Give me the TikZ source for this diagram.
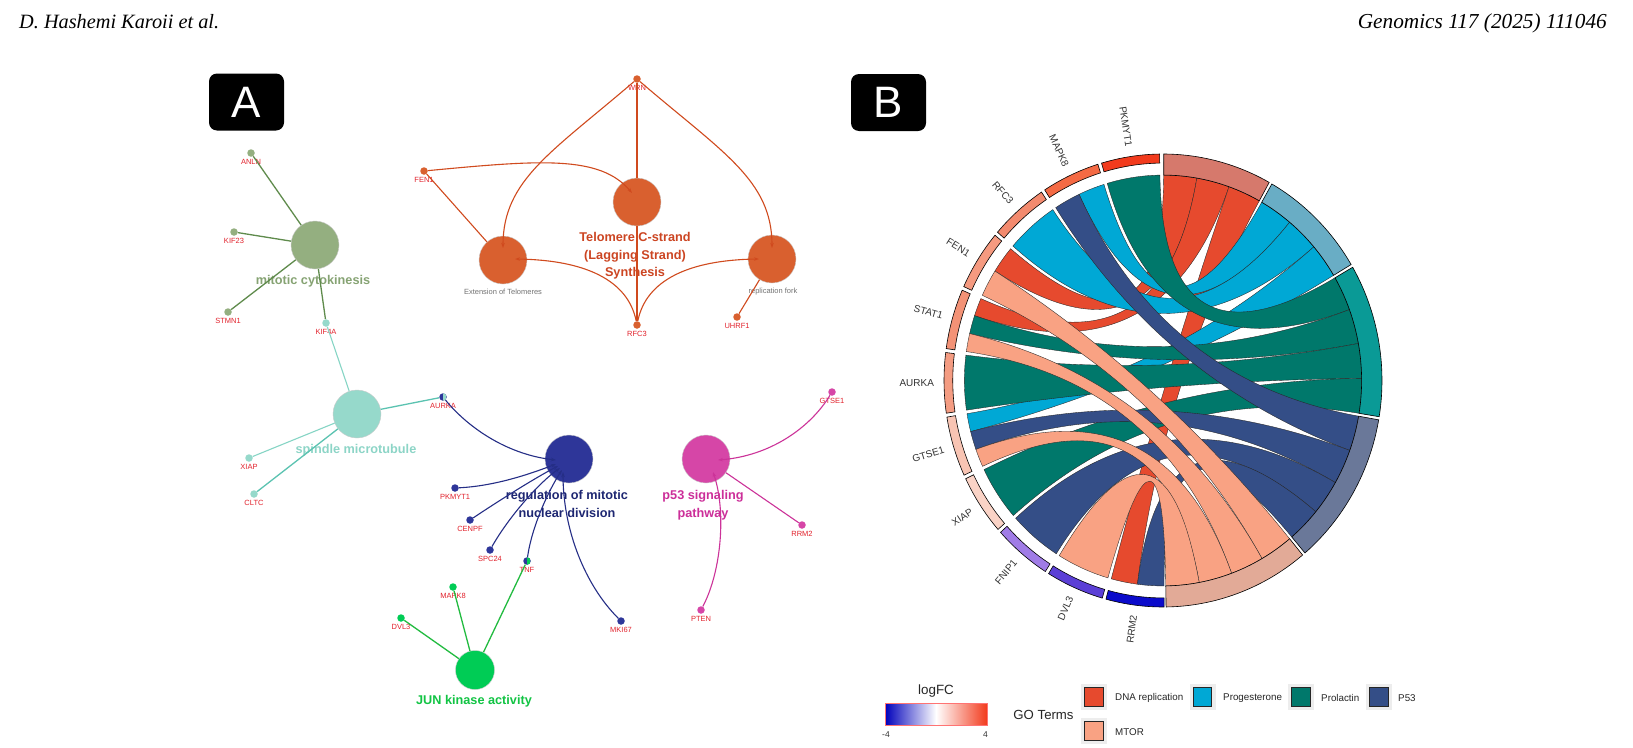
\documentclass[tikz,border=0pt]{standalone}
\usepackage{fontspec}
\setmainfont{Liberation Sans}
\newfontfamily\hdrfont{Liberation Serif}
\usetikzlibrary{arrows.meta,calc}

% network colours
\definecolor{cytoF}{RGB}{148,175,128}
\definecolor{cytoE}{RGB}{95,139,76}
\definecolor{cytoT}{RGB}{134,163,115}
\definecolor{teloF}{RGB}{217,96,47}
\definecolor{teloE}{RGB}{208,74,30}
\definecolor{teloT}{RGB}{204,69,34}
\definecolor{spinF}{RGB}{150,217,203}
\definecolor{spinE}{RGB}{134,213,197}
\definecolor{spinD}{RGB}{91,195,177}
\definecolor{spinT}{RGB}{141,213,199}
\definecolor{divF}{RGB}{46,54,153}
\definecolor{divE}{RGB}{37,46,134}
\definecolor{divT}{RGB}{30,39,114}
\definecolor{junF}{RGB}{0,204,85}
\definecolor{junE}{RGB}{34,187,64}
\definecolor{junT}{RGB}{18,196,68}
\definecolor{p53F}{RGB}{214,70,167}
\definecolor{p53E}{RGB}{204,51,153}
\definecolor{p53T}{RGB}{204,46,153}
\definecolor{geneRed}{RGB}{226,35,45}
% chord colours
\definecolor{dnaC}{HTML}{E64A2E}
\definecolor{progC}{HTML}{00A8D5}
\definecolor{prolC}{HTML}{00786B}
\definecolor{p53C}{HTML}{344E87}
\definecolor{mtorC}{HTML}{F9A283}
\definecolor{dnaR}{HTML}{D6796C}
\definecolor{progR}{HTML}{69ADC5}
\definecolor{prolR}{HTML}{0A9A96}
\definecolor{p53R}{HTML}{6A7899}
\definecolor{mtorR}{HTML}{E2AA97}
\definecolor{lfcA}{HTML}{F23B1D}
\definecolor{lfcB}{HTML}{F46A44}
\definecolor{lfcC}{HTML}{F38A6E}
\definecolor{lfcD}{HTML}{F59A80}
\definecolor{lfcE}{HTML}{F39276}
\definecolor{lfcF}{HTML}{F49C82}
\definecolor{lfcG}{HTML}{F8C4B3}
\definecolor{lfcH}{HTML}{FAD3C6}
\definecolor{lfcI}{HTML}{A07CE6}
\definecolor{lfcJ}{HTML}{5B3FD6}
\definecolor{lfcK}{HTML}{0B0BCB}
\definecolor{lfcLow}{HTML}{0000BB}

\newcommand\chR{0.907}
\newcommand\chRc{0.3023}
\newcommand\chordband[5]{%
  \filldraw[fill=#5,draw=black!85,line width=0.35pt] (#1:\chR)
    arc[start angle=#1,end angle=#2,radius=\chR]
    .. controls (#2:\chRc) and (#3:\chRc) .. (#3:\chR)
    arc[start angle=#3,end angle=#4,radius=\chR]
    .. controls (#4:\chRc) and (#1:\chRc) .. (#1:\chR) -- cycle;}

\begin{document}
\begin{tikzpicture}[x=1pt,y=-1pt,
  big/.style={circle,minimum size=48pt,inner sep=0pt,draw=black!20,line width=0.4pt},
  dot/.style={circle,minimum size=7.5pt,inner sep=0pt},
  glab/.style={font=\fontsize{7.5}{8}\selectfont,text=geneRed,inner sep=0.5pt},
  clab/.style={font=\bfseries\fontsize{12.7}{17.5}\selectfont,align=center,inner sep=0pt},
  slab/.style={font=\fontsize{7.5}{8}\selectfont,text=black!55,inner sep=0pt},
  glabB/.style={font=\fontsize{10}{10}\selectfont,text=black!80,inner sep=0pt},
  lgtext/.style={font=\fontsize{9.8}{10}\selectfont,text=black!85,inner sep=0pt,anchor=west},
  keybg/.style={fill=black!7,minimum size=26pt,inner sep=0pt},
  keybox/.style={draw=black!85,line width=0.6pt,minimum size=18.5pt,inner sep=0pt},
  panel/.style={fill=black,rounded corners=8pt,minimum width=75pt,minimum height=57pt,
    text=white,font=\fontsize{44}{44}\selectfont,inner sep=0pt},
  arrowend/.style={-{Stealth[length=5pt,width=3.5pt]}},
  label distance=1.5pt]
\useasboundingbox (0,0) rectangle (1633,747);
\fill[white] (0,0) rectangle (1633,747);

% header
\node[anchor=base west,font=\hdrfont\itshape\fontsize{20.3}{24}\selectfont,inner sep=0pt] (hdrL) at (19,28) {D. Hashemi Karoii et al.};
\node[anchor=base east,font=\hdrfont\itshape\fontsize{21.3}{24}\selectfont,inner sep=0pt] (hdrR) at (1607,28) {Genomics 117 (2025) 111046};

\node[panel] (panA) at (246.5,102) {A};
\node[panel] (panB) at (888.5,102.5) {B};

% ---- A: term nodes
\node[big,fill=cytoF] (cyto) at (315,245) {};
\node[big,fill=teloF] (ext) at (503,260) {};
\node[big,fill=teloF] (telo) at (637,202) {};
\node[big,fill=teloF] (rep) at (772,259) {};
\node[big,fill=spinF] (spin) at (357,414) {};
\node[big,fill=divF] (div) at (569,459) {};
\node[big,fill=junF,minimum size=39pt] (jun) at (475,670) {};
\node[big,fill=p53F] (p53) at (706,459) {};

\node[clab,text=cytoT] (cytoL) at (313,281) {mitotic cytokinesis};
\node[clab,text=teloT] (teloL) at (635,256) {Telomere C-strand\\(Lagging Strand)\\Synthesis};
\node[slab] (extL) at (503,292) {Extension of Telomeres};
\node[slab] (repL) at (773,292) {replication fork};
\node[clab,text=spinT] (spinL) at (356,450) {spindle microtubule};
\node[clab,text=divT] (divL) at (567,504) {regulation of mitotic\\nuclear division};
\node[clab,text=junT] (junL) at (474,701) {JUN kinase activity};
\node[clab,text=p53T] (p53L) at (703,505) {p53 signaling\\pathway};

% ---- A: gene dots
\node[dot,fill=cytoF,label={[glab]below:ANLN}] (anln) at (251,153) {};
\node[dot,fill=cytoF,label={[glab]below:KIF23}] (kif23) at (234,232) {};
\node[dot,fill=cytoF,label={[glab]below:STMN1}] (stmn1) at (228,312) {};
\node[dot,fill=spinF,label={[glab]below:KIF4A}] (kif4a) at (326,323) {};
\node[dot,fill=teloF,label={[glab]below:FEN1}] (fen1) at (424,171) {};
\node[dot,fill=teloF,label={[glab]below:WRN}] (wrn) at (637,79) {};
\node[dot,fill=teloF,label={[glab]below:RFC3}] (rfc3) at (637,325) {};
\node[dot,fill=teloF,label={[glab]below:UHRF1}] (uhrf1) at (737,317) {};
\node[dot,fill=spinF,label={[glab]below:XIAP}] (xiap) at (249,458) {};
\node[dot,fill=spinF,label={[glab]below:CLTC}] (cltc) at (254,494) {};
\node[dot,fill=divF,label={[glab]below:AURKA},path picture={\fill[spinF] (path picture bounding box.north) rectangle (path picture bounding box.south east);}] (aurka) at (443,397) {};
\node[dot,fill=divF,label={[glab]below:PKMYT1}] (pkmyt1) at (455,488) {};
\node[dot,fill=divF,label={[glab]below:CENPF}] (cenpf) at (470,520) {};
\node[dot,fill=divF,label={[glab]below:SPC24}] (spc24) at (490,550) {};
\node[dot,fill=divF,label={[glab]below:TNF},path picture={\fill[junF] (path picture bounding box.north) rectangle (path picture bounding box.south east);}] (tnf) at (527,561) {};
\node[dot,fill=divF,label={[glab]below:MKI67}] (mki67) at (621,621) {};
\node[dot,fill=junF,label={[glab]below:MAPK8}] (mapk8) at (453,587) {};
\node[dot,fill=junF,label={[glab]below:DVL3}] (dvl3) at (401,618) {};
\node[dot,fill=p53F,label={[glab]below:GTSE1}] (gtse1) at (832,392) {};
\node[dot,fill=p53F,label={[glab]below:RRM2}] (rrm2) at (802,525) {};
\node[dot,fill=p53F,label={[glab]below:PTEN}] (pten) at (701,610) {};

% ---- A: edges
\draw[cytoE,line width=1.3pt] (anln) -- (cyto);
\draw[cytoE,line width=1.3pt] (kif23) -- (cyto);
\draw[cytoE,line width=1.3pt] (stmn1) -- (cyto);
\draw[cytoE,line width=1.3pt] (kif4a) -- (cyto);

\draw[teloE,line width=1.1pt] (fen1) -- (ext);
\draw[teloE,line width=1.1pt,arrowend] (fen1) .. controls (540,160) and (600,155) .. ($(telo)+(-5,-9)$);
\draw[teloE,line width=1.1pt,arrowend] (wrn) .. controls (552,152) and (503,180) .. ($(ext)+(0,-12)$);
\draw[teloE,line width=1.1pt] (wrn) -- (telo);
\draw[teloE,line width=1.1pt,arrowend] (wrn) .. controls (722,152) and (772,180) .. ($(rep)+(0,-11)$);
\draw[teloE,line width=1.1pt,arrowend] (rfc3) .. controls (628,280) and (585,260) .. ($(ext)+(12,-1)$);
\draw[teloE,line width=1.1pt] (telo) -- (rfc3);
\draw[teloE,line width=1.1pt,arrowend] (rfc3) .. controls (646,280) and (689,260) .. ($(rep)+(-13,0)$);
\draw[teloE,line width=1.1pt] (rep) -- (uhrf1);

\draw[spinE,line width=1.1pt] (kif4a) -- (spin);
\draw[spinE,line width=1.1pt] (xiap) -- (spin);
\draw[spinD,line width=1.3pt] (cltc) -- (spin);
\draw[spinD,line width=1.3pt] (spin) -- (aurka);

\draw[divE,line width=1.1pt,arrowend] (aurka) .. controls (470,430) and (510,455) .. ($(div)+(-13,1)$);
\draw[divE,line width=1.1pt,arrowend] (pkmyt1) .. controls (495,486) and (530,474) .. ($(div)+(-13,5)$);
\draw[divE,line width=1.1pt,arrowend] (cenpf) .. controls (500,500) and (535,478) .. ($(div)+(-11,7)$);
\draw[divE,line width=1.1pt,arrowend] (spc24) .. controls (510,515) and (540,482) .. ($(div)+(-9,9)$);
\draw[divE,line width=1.1pt,arrowend] (tnf) .. controls (532,525) and (550,488) .. ($(div)+(-7,11)$);
\draw[divE,line width=1.1pt,arrowend] (mki67) .. controls (585,585) and (563,530) .. ($(div)+(-6,13)$);

\draw[junE,line width=1.3pt] (dvl3) -- (jun);
\draw[junE,line width=1.3pt] (mapk8) -- (jun);
\draw[junE,line width=1.3pt] (tnf) -- (jun);

\draw[p53E,line width=1.1pt,arrowend] (gtse1) .. controls (810,428) and (770,456) .. ($(p53)+(12,1)$);
\draw[p53E,line width=1.1pt] (rrm2) -- (p53);
\draw[p53E,line width=1.1pt,arrowend] (pten) .. controls (722,570) and (726,510) .. ($(p53)+(7,13)$);

% ---- B: chord diagram
\coordinate (chordC) at (1163,380.5);
\begin{scope}[shift={(chordC)},x=219pt,y=226.5pt]
  % links: dna, progesterone, prolactin, p53, mtor
  \chordband{140.1}{147.8}{80.2}{89.8}{dnaC}
  \chordband{156.5}{161.6}{70.6}{80.2}{dnaC}
  \chordband{254.9}{262.6}{61.0}{70.6}{dnaC}
  \chordband{107.3}{115.0}{50.4}{60.2}{progC}
  \chordband{123.7}{139.1}{40.6}{50.4}{progC}
  \chordband{189.3}{194.4}{30.8}{40.6}{progC}
  \chordband{90.9}{106.3}{20.2}{30.0}{prolC}
  \chordband{161.6}{166.8}{10.4}{20.2}{prolC}
  \chordband{172.9}{188.3}{0.6}{10.4}{prolC}
  \chordband{205.7}{221.1}{-9.2}{0.6}{prolC}
  \chordband{115.0}{122.7}{-19.9}{-10.0}{p53C}
  \chordband{194.4}{199.6}{-29.8}{-19.9}{p53C}
  \chordband{222.1}{237.5}{-39.7}{-29.8}{p53C}
  \chordband{262.6}{270.3}{-49.6}{-39.7}{p53C}
  \chordband{147.8}{155.5}{-60.1}{-50.4}{mtorC}
  \chordband{166.8}{171.9}{-69.8}{-60.1}{mtorC}
  \chordband{199.6}{204.7}{-79.5}{-69.8}{mtorC}
  \chordband{238.5}{253.9}{-89.2}{-79.5}{mtorC}
  % GO term sectors
  \foreach \s/\e/\c in {61.0/89.8/dnaR, 30.8/60.2/progR, -9.2/30.0/prolR, -49.6/-10.0/p53R, -89.2/-50.4/mtorR}
    \filldraw[fill=\c,draw=black,line width=0.6pt] (\s:1) arc[start angle=\s,end angle=\e,radius=1]
      -- (\e:\chR) arc[start angle=\e,end angle=\s,radius=\chR] -- cycle;
  % gene sectors
  \foreach \n/\c [count=\i from 0] in {PKMYT1/lfcA,MAPK8/lfcB,RFC3/lfcC,FEN1/lfcD,STAT1/lfcE,AURKA/lfcF,GTSE1/lfcG,XIAP/lfcH,FNIP1/lfcI,DVL3/lfcJ,RRM2/lfcK}{
    \pgfmathsetmacro\s{90.9+16.4*\i}
    \pgfmathsetmacro\e{\s+15.4}
    \pgfmathsetmacro\m{\s+7.7}
    \pgfmathsetmacro\r{\m+180}
    \filldraw[fill=\c,draw=black,line width=0.6pt] (\s:1) arc[start angle=\s,end angle=\e,radius=1]
      -- (\e:0.96) arc[start angle=\e,end angle=\s,radius=0.96] -- cycle;
    \node[glabB,anchor=east,rotate=\r] (g\i) at (\m:1.045) {\n};
  }
\end{scope}

% ---- B: legend
\node[font=\fontsize{13.4}{13}\selectfont,text=black!85,inner sep=0pt] (lfcT) at (936,691) {logFC};
\shade[left color=lfcLow,right color=white] (885,703) rectangle (936,725);
\shade[left color=white,right color=lfcA] (936,703) rectangle (987,725);
\draw[red!55,line width=0.4pt] (885,703) rectangle (987,725);
\node[font=\fontsize{8.5}{8}\selectfont,text=black!80,inner sep=0pt] (lfcLo) at (886,735) {-4};
\node[font=\fontsize{8.5}{8}\selectfont,text=black!80,inner sep=0pt] (lfcHi) at (985.5,735) {4};

\node[font=\fontsize{13.2}{13}\selectfont,text=black!85,inner sep=0pt] (goT) at (1043.5,715) {GO Terms};
\node[keybg] (kDna) at (1094,697) {};
\node[keybox,fill=dnaC] at (kDna) {};
\node[lgtext] (tDna) at (1115,698) {DNA replication};
\node[keybg] (kProg) at (1202.5,697) {};
\node[keybox,fill=progC] at (kProg) {};
\node[lgtext] (tProg) at (1223,698) {Progesterone};
\node[keybg] (kProl) at (1301,697) {};
\node[keybox,fill=prolC] at (kProl) {};
\node[lgtext] (tProl) at (1321,698) {Prolactin};
\node[keybg] (kP53) at (1379,697) {};
\node[keybox,fill=p53C] at (kP53) {};
\node[lgtext] (tP53) at (1398,698) {P53};
\node[keybg] (kMtor) at (1094,731) {};
\node[keybox,fill=mtorC] at (kMtor) {};
\node[lgtext] (tMtor) at (1115,732) {MTOR};
\end{tikzpicture}
\end{document}
